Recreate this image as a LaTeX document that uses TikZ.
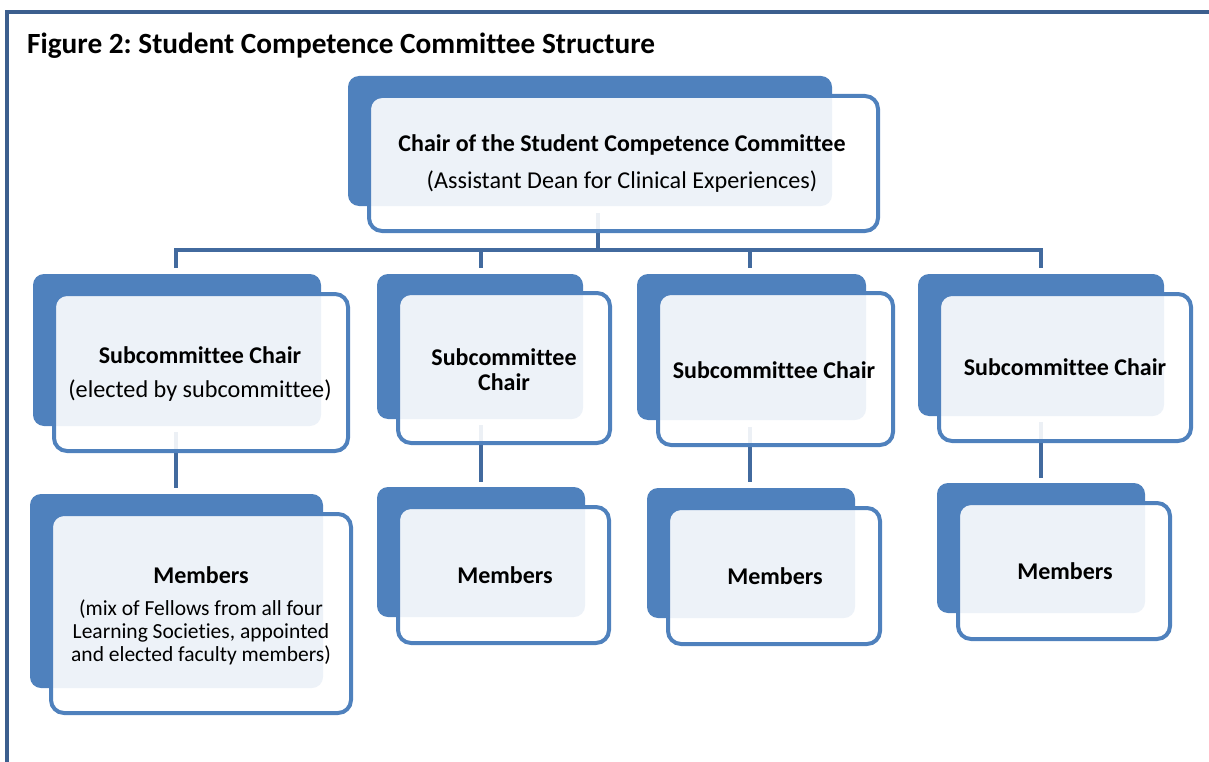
\documentclass[tikz,border=0pt]{standalone}
\usepackage{fontspec}
\setmainfont{Carlito}[Ligatures=NoCommon]
\frenchspacing
\definecolor{boxblue}{RGB}{79,129,189}
\definecolor{connblue}{RGB}{66,106,158}
\definecolor{frameblue}{RGB}{60,95,142}
\newcommand{\mybox}[6]{%
  \node[#6, minimum width={(#4-#2)*1pt}, minimum height={(#5-#3)*1pt}] (#1) at ({(#2+#4)/2},{(#3+#5)/2}) {};}
\begin{document}
\begin{tikzpicture}[x=1pt,y=-1pt,
  backbox/.style={fill=boxblue, draw=none, rounded corners=11pt, inner sep=0pt, outer sep=0pt},
  frontbox/.style={fill=white, fill opacity=0.9, draw=boxblue, draw opacity=1, line width=4pt, rounded corners=13pt, inner sep=0pt, outer sep=0pt},
  conn/.style={draw=connblue, line width=4pt},
  bigtxt/.style={font=\bfseries\fontsize{24}{28}\selectfont, inner sep=0pt, text=black},
  midtxt/.style={font=\fontsize{24.2}{28}\selectfont, inner sep=0pt, text=black},
  smalltxt/.style={font=\fontsize{21.5}{23}\selectfont, inner sep=0pt, align=center, text=black}]
\useasboundingbox (0,0) rectangle (1209,762);
% frame
\draw[frameblue, line width=3.5pt] (7,762) -- (7,12) -- (1209,12);
\node[anchor=base west, font=\bfseries\fontsize{29.3}{34}\selectfont, inner sep=0pt] (title) at (27,54) {Figure 2: Student Competence Committee Structure};
% connector coordinates
\coordinate (t0) at (598,213);
\coordinate (tj) at (598,250);
\coordinate (j1) at (176,250);
\coordinate (j2) at (481,250);
\coordinate (j3) at (750,250);
\coordinate (j4) at (1041,250);
\coordinate (d1) at (176,268);
\coordinate (d2) at (481,268);
\coordinate (d3) at (750,268);
\coordinate (d4) at (1041,268);
\coordinate (c1a) at (176,432); \coordinate (c1b) at (176,488);
\coordinate (c2a) at (481,425); \coordinate (c2b) at (481,482);
\coordinate (c3a) at (750,427); \coordinate (c3b) at (750,482);
\coordinate (c4a) at (1041,422); \coordinate (c4b) at (1041,478);
% connectors (behind boxes)
\draw[conn] (t0) -- (tj);
\draw[conn] (d1) -- (j1) -- (j4) -- (d4);
\draw[conn] (j2) -- (d2);
\draw[conn] (j3) -- (d3);
\draw[conn] (c1a) -- (c1b);
\draw[conn] (c2a) -- (c2b);
\draw[conn] (c3a) -- (c3b);
\draw[conn] (c4a) -- (c4b);
% back boxes
\mybox{topB}{348}{76}{832}{206}{backbox}
\mybox{ch1B}{33}{274}{321}{426}{backbox}
\mybox{ch2B}{377}{274}{583}{419}{backbox}
\mybox{ch3B}{637}{274}{866}{420}{backbox}
\mybox{ch4B}{918}{274}{1164}{416}{backbox}
\mybox{me1B}{30}{494}{323}{688}{backbox}
\mybox{me2B}{377}{487}{585}{617}{backbox}
\mybox{me3B}{647}{488}{855}{618}{backbox}
\mybox{me4B}{937}{483}{1145}{613}{backbox}
% front boxes
\mybox{top}{369}{96}{878}{231}{frontbox}
\mybox{ch1}{54}{294}{348}{451}{frontbox}
\mybox{ch2}{398}{293}{610}{443}{frontbox}
\mybox{ch3}{658}{293}{893}{445}{frontbox}
\mybox{ch4}{939}{294}{1191}{441}{frontbox}
\mybox{me1}{51}{514}{351}{713}{frontbox}
\mybox{me2}{398}{507}{609}{643}{frontbox}
\mybox{me3}{668}{508}{880}{644}{frontbox}
\mybox{me4}{958}{503}{1170}{639}{frontbox}
% texts
\node[bigtxt] (topT1) at (622,145) {Chair of the Student Competence Committee};
\node[midtxt] (topT2) at (622,182) {(Assistant Dean for Clinical Experiences)};
\node[bigtxt] (ch1T1) at (200,355) {Subcommittee Chair};
\node[midtxt] (ch1T2) at (200,391) {(elected by subcommittee)};
\node[bigtxt] (ch2T1) at (504,357) {Subcommittee};
\node[bigtxt] (ch2T2) at (504,382) {Chair};
\node[bigtxt] (ch3T) at (774,370) {Subcommittee Chair};
\node[bigtxt] (ch4T) at (1065,367) {Subcommittee Chair};
\node[bigtxt] (me1T1) at (201,575) {Members};
\node[smalltxt] (me1T2) at (201,632) {(mix of Fellows from all four\\Learning Societies, appointed\\and elected faculty members)};
\node[bigtxt] (me2T) at (505,575) {Members};
\node[bigtxt] (me3T) at (775,576) {Members};
\node[bigtxt] (me4T) at (1065,571) {Members};
\end{tikzpicture}
\end{document}
